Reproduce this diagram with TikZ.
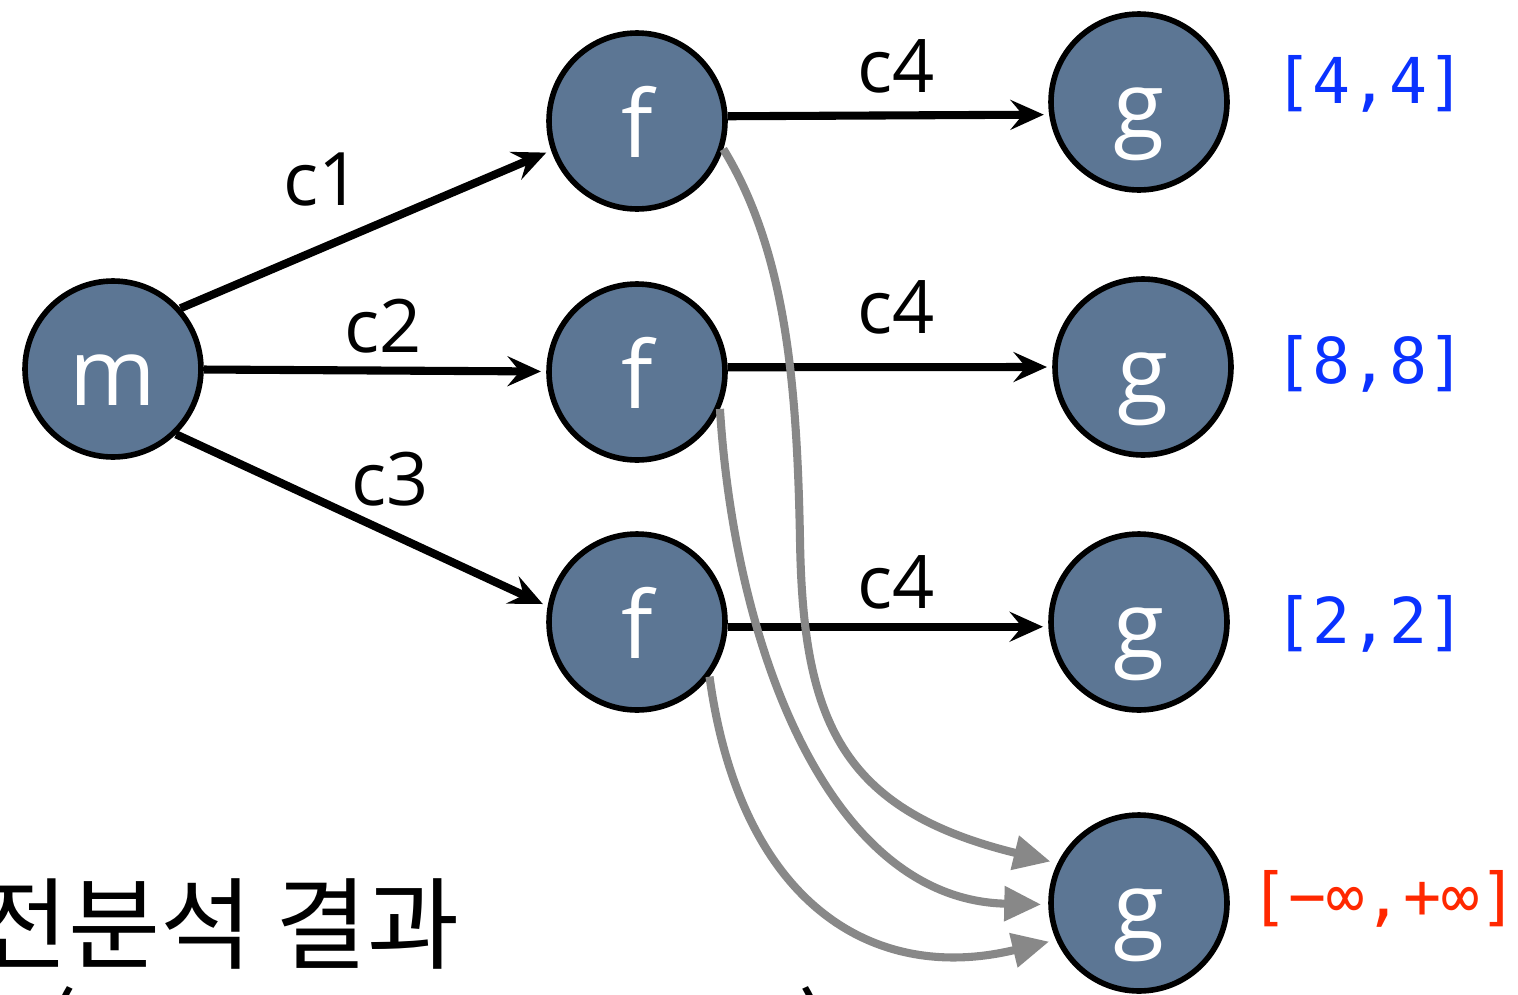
\documentclass[tikz,border=0pt]{standalone}
\usepackage{fontspec}
\setmainfont{Open Sans}
\newfontfamily\ivfont{DejaVu Sans Mono}
\newfontfamily\krfont{Noto Sans CJK KR}
\usetikzlibrary{arrows.meta}
\definecolor{nodefill}{RGB}{92,118,148}
\definecolor{ivblue}{RGB}{10,50,255}
\definecolor{ivred}{RGB}{255,40,0}
\definecolor{curvegray}{RGB}{136,136,136}
\begin{document}
\begin{tikzpicture}[x=0.02cm,y=-0.02cm,
  vnode/.style={circle, draw=black, line width=3.2pt, fill=nodefill,
    minimum size=3.52cm, inner sep=0pt, text=white,
    font=\fontsize{53}{53}\selectfont, text height=52pt, text depth=10pt},
  elabel/.style={anchor=base, font=\fontsize{42}{42}\selectfont, inner sep=0pt},
  ivlabel/.style={anchor=base, font=\ivfont\fontsize{36}{36}\selectfont, inner sep=0pt},
  blk/.style={line width=4.6pt, draw=black, -{Stealth[length=19pt,width=17pt,inset=7pt]}, shorten >=3pt},
  gry/.style={line width=4.6pt, draw=curvegray, -{Triangle[length=21pt,width=19pt]}, shorten >=4pt},
  krtext/.style={font=\krfont\fontsize{57}{57}\selectfont, inner sep=0pt}
]
\useasboundingbox (0,0) rectangle (1518,994);

\node[vnode] (m)  at (113,369) {m};
\node[vnode] (f1) at (637,121) {f};
\node[vnode] (f2) at (637,372) {f};
\node[vnode] (f3) at (637,622) {f};
\node[vnode] (g1) at (1139,102) {g};
\node[vnode] (g2) at (1143,367) {g};
\node[vnode] (g3) at (1139,622) {g};
\node[vnode] (g4) at (1139,903) {g};

\draw[blk] (m.42) -- (f1.199);
\draw[blk] (m) -- (f2);
\draw[blk] (m.-46) -- (f3.170);
\draw[blk] (f1.3) -- (g1.188);
\draw[blk] (f2.3) -- (g2.west);
\draw[blk] (f3.-3) -- (g3.183);

\coordinate (k1) at (800,540);
\draw[gry] (f1.-18) .. controls (785,250) and (797,380) .. (k1)
  .. controls (803,720) and (840,810) .. (g4.154);
\draw[gry] (f2.-24) .. controls (735,650) and (830,900) .. (g4.181);
\draw[gry] (f3.-37) .. controls (740,900) and (870,985) .. (g4.204);

\node[elabel] (l1) at (322,205) {c1};
\node[elabel] (l2) at (383,352) {c2};
\node[elabel] (l3) at (390,505) {c3};
\node[elabel] (l4) at (896,92) {c4};
\node[elabel] (l5) at (896,333) {c4};
\node[elabel] (l6) at (896,608) {c4};

\node[ivlabel, text=ivblue] (i1) at (1370,103) {[4,4]};
\node[ivlabel, text=ivblue] (i2) at (1370,383) {[8,8]};
\node[ivlabel, text=ivblue] (i3) at (1370,643) {[2,2]};
\node[ivlabel, text=ivred] (i4) at (1384,918) {[−∞,+∞]};

\node[krtext, anchor=west] (kr) at (-24,924) {전분석 결과};
\node[krtext, anchor=base] (lp) at (60,1068) {(};
\node[krtext, anchor=base] (rp) at (815,1068) {)};
\end{tikzpicture}
\end{document}
